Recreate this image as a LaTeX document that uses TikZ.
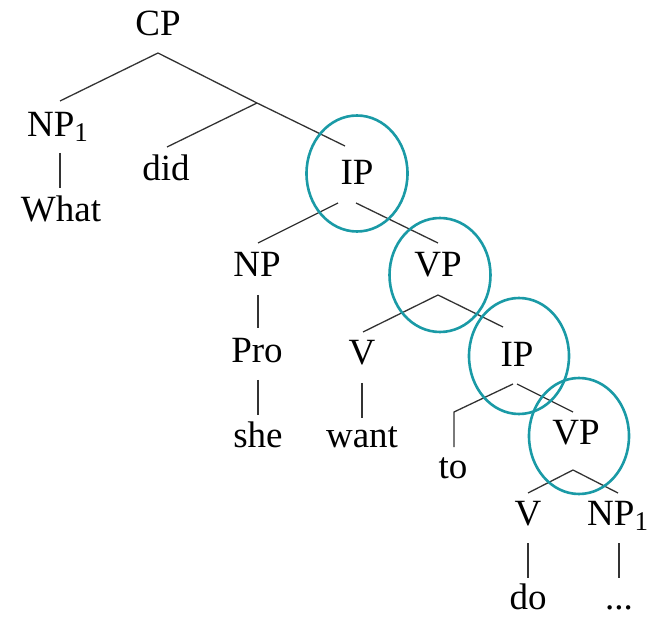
\documentclass[tikz,border=0pt]{standalone}
\usepackage{fontspec}
\setmainfont{Liberation Serif}
\definecolor{teal1}{HTML}{1A9AA6}
\definecolor{branch}{HTML}{333333}
\begin{document}
\begin{tikzpicture}[x=1pt,y=-1pt,
  lab/.style={anchor=base,inner sep=0pt,font=\fontsize{37}{40}\selectfont},
  labw/.style={anchor=base west,inner sep=0pt,font=\fontsize{37}{40}\selectfont},
  br/.style={draw=branch,line width=1.3pt},
  circ/.style={draw=teal1,line width=2.6pt}]
\useasboundingbox (0,0) rectangle (648,617);
\newcommand{\subone}{{\fontsize{27}{27}\selectfont\raisebox{-5pt}{1}}}
% labels
\node[lab] (cp) at (158,36) {CP};
\node[labw] (np1) at (27,137) {NP\subone};
\node[lab] (what) at (61,222) {What};
\node[lab] (did) at (166,181) {did};
\node[lab] (ip1) at (357,185) {IP};
\node[lab] (np) at (257,277) {NP};
\node[lab] (vp1) at (438,277) {VP};
\node[lab] (pro) at (257,363) {Pro};
\node[lab] (v1) at (362,365) {V};
\node[lab] (she) at (258,447) {she};
\node[lab] (want) at (362,447) {want};
\node[lab] (ip2) at (517,367) {IP};
\node[lab] (to) at (453,478) {to};
\node[lab] (vp2) at (576,445) {VP};
\node[lab] (v2) at (528,525) {V};
\node[labw] (np1b) at (587,525) {NP\subone};
\node[lab] (do) at (528,609) {do};
\node[lab] (dots) at (619,609) {...};
% branch points
\coordinate (cpb) at (158,53);
\coordinate (cpl) at (60,101);
\coordinate (mid) at (257,103);
\coordinate (ip1t) at (345,146);
\coordinate (didt) at (167,147);
\coordinate (np1s) at (60,153);
\coordinate (whatn) at (60,188);
\coordinate (ip1l) at (338,203);
\coordinate (ip1r) at (356,203);
\coordinate (npt) at (258,243);
\coordinate (vp1t) at (438,243);
\coordinate (nps) at (258,295);
\coordinate (pron) at (258,328);
\coordinate (pros) at (258,380);
\coordinate (shen) at (258,415);
\coordinate (vp1b) at (438,295);
\coordinate (v1t) at (363,332);
\coordinate (ip2t) at (503,327);
\coordinate (v1s) at (362,383);
\coordinate (wantn) at (362,418);
\coordinate (ip2l) at (513,384);
\coordinate (ip2r) at (517,384);
\coordinate (tok) at (454,412);
\coordinate (ton) at (454,447);
\coordinate (vp2t) at (573,412);
\coordinate (vp2b) at (573,470);
\coordinate (v2t) at (528,493);
\coordinate (np1bt) at (618,493);
\coordinate (v2s) at (528,543);
\coordinate (don) at (528,578);
\coordinate (np1bs) at (619,543);
\coordinate (dotsn) at (619,578);
% branches
\draw[br] (cpb) -- (cpl);
\draw[br] (cpb) -- (mid) -- (ip1t);
\draw[br] (mid) -- (didt);
\draw[br] (np1s) -- (whatn);
\draw[br] (ip1l) -- (npt);
\draw[br] (ip1r) -- (vp1t);
\draw[br] (nps) -- (pron);
\draw[br] (pros) -- (shen);
\draw[br] (vp1b) -- (v1t);
\draw[br] (vp1b) -- (ip2t);
\draw[br] (v1s) -- (wantn);
\draw[br] (ip2l) -- (tok) -- (ton);
\draw[br] (ip2r) -- (vp2t);
\draw[br] (vp2b) -- (v2t);
\draw[br] (vp2b) -- (np1bt);
\draw[br] (v2s) -- (don);
\draw[br] (np1bs) -- (dotsn);
% ellipses
\draw[circ] (357,173.5) ellipse [x radius=50.5, y radius=58];
\draw[circ] (440,275) ellipse [x radius=50.5, y radius=57];
\draw[circ] (519,356) ellipse [x radius=50, y radius=58];
\draw[circ] (579,436) ellipse [x radius=50, y radius=58];
\end{tikzpicture}
\end{document}
